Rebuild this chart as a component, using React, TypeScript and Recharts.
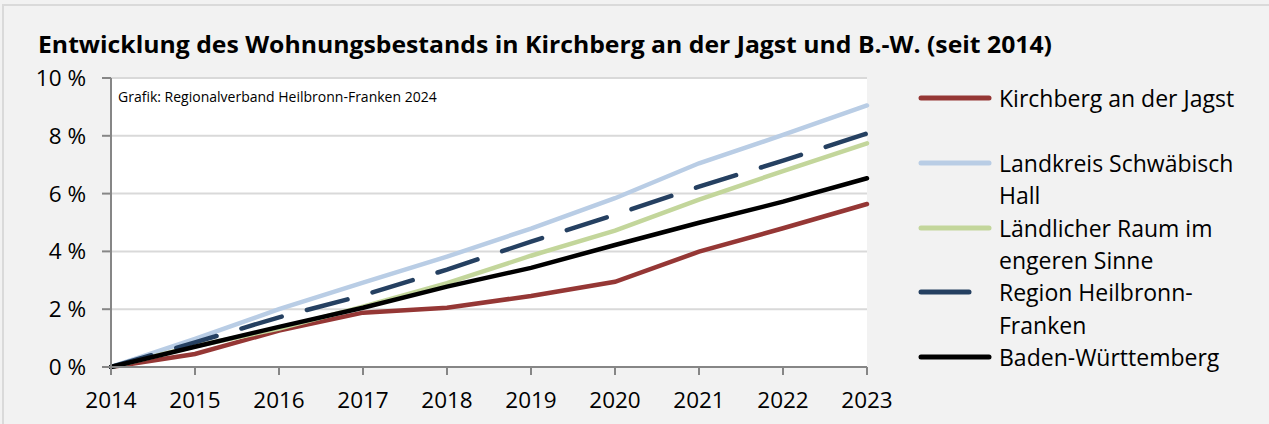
import React from "react";
import { LineChart, Line, XAxis, YAxis, CartesianGrid, Legend } from "recharts";

const years = ["2014", "2015", "2016", "2017", "2018", "2019", "2020", "2021", "2022", "2023"];
const kirchberg = [0, 0.45, 1.26, 1.88, 2.05, 2.46, 2.95, 3.99, 4.8, 5.64];
const landkreis = [0, 0.97, 2.0, 2.92, 3.82, 4.79, 5.84, 7.05, 8.03, 9.05];
const laendlich = [0, 0.72, 1.33, 2.09, 2.9, 3.85, 4.72, 5.79, 6.78, 7.74];
const region = [0, 0.85, 1.72, 2.48, 3.37, 4.34, 5.27, 6.24, 7.14, 8.08];
const bw = [0, 0.7, 1.39, 2.05, 2.78, 3.43, 4.22, 4.99, 5.72, 6.53];
const yTicks = [0, 2, 4, 6, 8, 10];

const title = "Entwicklung des Wohnungsbestands in Kirchberg an der Jagst und B.-W. (seit 2014)";
const source = "Grafik: Regionalverband Heilbronn-Franken 2024";

const series = [
  { key: "kirchberg", name: "Kirchberg an der Jagst", color: "#953735", dash: undefined as string | undefined, lines: ["Kirchberg an der Jagst", ""] },
  { key: "landkreis", name: "Landkreis Schwäbisch Hall", color: "#b9cde5", dash: undefined, lines: ["Landkreis Schwäbisch", "Hall"] },
  { key: "laendlich", name: "Ländlicher Raum im engeren Sinne", color: "#c3d69b", dash: undefined, lines: ["Ländlicher Raum im", "engeren Sinne"] },
  { key: "region", name: "Region Heilbronn-Franken", color: "#254061", dash: "42 26", lines: ["Region Heilbronn-", "Franken"] },
  { key: "bw", name: "Baden-Württemberg", color: "#000000", dash: undefined, lines: ["Baden-Württemberg"] },
];

const data = years.map((y, i) => ({
  year: y,
  kirchberg: kirchberg[i],
  landkreis: landkreis[i],
  laendlich: laendlich[i],
  region: region[i],
  bw: bw[i],
}));

const FONT = "'Open Sans', sans-serif";
const LEGEND_W = 340;

const LegendContent = () => (
  <div style={{ fontFamily: FONT, fontSize: 23, lineHeight: "32.4px", color: "#000", width: LEGEND_W }}>
    {series.map((s) => (
      <div key={s.key} style={{ position: "relative", paddingLeft: 81 }}>
        <svg width={76} height={12} style={{ position: "absolute", left: 0, top: 10 }}>
          <line
            x1={3}
            x2={s.dash ? 51 : 71}
            y1={6}
            y2={6}
            stroke={s.color}
            strokeWidth={5}
            strokeLinecap="round"
          />
        </svg>
        {s.lines.map((l, i) => (
          <div key={i} style={{ height: 32.4, whiteSpace: "nowrap" }}>{l}</div>
        ))}
      </div>
    ))}
  </div>
);

export default function App() {
  return (
    <div style={{ position: "absolute", left: 0, top: 0, width: 1269, height: 424, background: "#f2f2f2", overflow: "hidden" }}>
      <div style={{ position: "absolute", left: 2, top: 4, width: 1300, height: 500, border: "2px solid #dadada", boxSizing: "border-box" }} />
      <svg width={1269} height={70} style={{ position: "absolute", left: 0, top: 0 }}>
        <text x={38} y={53} fontFamily={FONT} fontWeight={700} fontSize={23.5} fill="#000" textLength={1014} lengthAdjust="spacingAndGlyphs">
          {title}
        </text>
      </svg>
      <div style={{ position: "absolute", left: 0, top: 0 }}>
        <LineChart width={1269} height={424} data={data} margin={{ top: 78, right: 402 - LEGEND_W, bottom: 0, left: 0 }}>
          <CartesianGrid vertical={false} stroke="#d9d9d9" strokeWidth={2} fill="#ffffff" />
          <XAxis
            dataKey="year"
            height={57}
            tickSize={8}
            tickMargin={17}
            interval={0}
            axisLine={{ stroke: "#868686", strokeWidth: 2 }}
            tickLine={{ stroke: "#868686", strokeWidth: 2 }}
            tick={{ fill: "#000", fontSize: 22.5, fontFamily: FONT }}
          />
          <YAxis
            width={111}
            domain={[0, 10]}
            ticks={yTicks}
            tickFormatter={(v: number) => `${v} %`}
            tickSize={9}
            tickMargin={16}
            axisLine={{ stroke: "#868686", strokeWidth: 2 }}
            tickLine={{ stroke: "#868686", strokeWidth: 2 }}
            tick={{ fill: "#000", fontSize: 22.5, fontFamily: FONT }}
          />
          <Legend
            layout="vertical"
            align="right"
            verticalAlign="top"
            content={<LegendContent />}
            wrapperStyle={{ position: "absolute", left: 918, top: 82, width: LEGEND_W }}
          />
          {series.map((s) => (
            <Line
              key={s.key}
              type="linear"
              dataKey={s.key}
              name={s.name}
              stroke={s.color}
              strokeWidth={4.5}
              strokeDasharray={s.dash}
              strokeLinecap="round"
              dot={false}
              activeDot={false}
              isAnimationActive={false}
            />
          ))}
        </LineChart>
      </div>
      <svg width={400} height={30} style={{ position: "absolute", left: 118, top: 86 }}>
        <text x={0} y={16} fontFamily={FONT} fontSize={14} fill="#000">{source}</text>
      </svg>
    </div>
  );
}
